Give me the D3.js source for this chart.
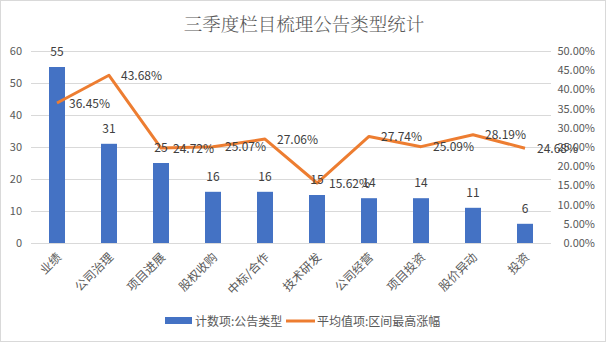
<!DOCTYPE html>
<html><head><meta charset="utf-8">
<script src="https://cdn.jsdelivr.net/npm/d3@7"></script>
<style>body{margin:0;background:#fff}svg{display:block}</style>
</head><body>
<svg id="c" width="606" height="342"></svg>
<script>
const categories = ["业绩","公司治理","项目进展","股权收购","中标/合作","技术研发","公司经营","项目投资","股价异动","投资"];
const counts = [55,31,25,16,16,15,14,14,11,6];
const pcts = [36.45,43.68,24.72,25.07,27.06,15.62,27.74,25.09,28.19,24.68];
const leftTicks = [0,10,20,30,40,50,60];
const rightTicks = [0,5,10,15,20,25,30,35,40,45,50];
const title = "三季度栏目梳理公告类型统计";
const legendNames = ["计数项:公告类型","平均值项:区间最高涨幅"];

const svg = d3.select("#c");
const W = 606, H = 342;
const font = "'Noto Sans CJK SC','Microsoft YaHei',sans-serif";
const txt = "#595959";
svg.append("rect").attr("x",0.5).attr("y",0.5).attr("width",W-1).attr("height",H-1)
  .attr("fill","#fff").attr("stroke","#d9d9d9");

const x0 = 31, x1 = 551, yTop = 51, yBot = 243;
const x = d3.scaleBand().domain(categories).range([x0,x1]);
const yL = d3.scaleLinear().domain([0,60]).range([yBot,yTop]);
const yR = d3.scaleLinear().domain([0,50]).range([yBot,yTop]);

svg.append("text").attr("x",W/2+1).attr("y",31).attr("text-anchor","middle")
  .attr("font-family","'Noto Serif CJK SC','Noto Sans CJK SC',serif").attr("font-size",18.5)
  .attr("font-weight",300)
  .attr("fill","#595959").text(title);

// gridlines
svg.append("g").selectAll("line").data(leftTicks).join("line")
  .attr("x1",x0).attr("x2",x1).attr("y1",d=>Math.round(yL(d))+0.5).attr("y2",d=>Math.round(yL(d))+0.5)
  .attr("stroke","#d9d9d9").attr("stroke-width",1);

// left axis
const gl = svg.append("g").attr("transform",`translate(22,0)`)
  .call(d3.axisLeft(yL).tickValues(leftTicks).tickSize(0).tickPadding(0));
gl.select(".domain").remove();
gl.selectAll("text").attr("font-family",font).attr("font-size",11).attr("fill",txt);

// right axis
const gr = svg.append("g").attr("transform",`translate(595,0)`)
  .call(d3.axisLeft(yR).tickValues(rightTicks).tickSize(0).tickPadding(0).tickFormat(d=>d.toFixed(2)+"%"));
gr.select(".domain").remove();
gr.selectAll("text").attr("font-family",font).attr("font-size",11).attr("fill",txt);

// bars
const bw = 16;
svg.append("g").selectAll("rect").data(counts).join("rect")
  .attr("x",(d,i)=>x(categories[i])+x.bandwidth()/2-bw/2).attr("width",bw)
  .attr("y",d=>yL(d)).attr("height",d=>yBot-yL(d)).attr("fill","#4472C4");

// line
const line = d3.line().x((d,i)=>x(categories[i])+x.bandwidth()/2).y(d=>yR(d));
svg.append("path").datum(pcts).attr("d",line).attr("fill","none")
  .attr("stroke","#ED7D31").attr("stroke-width",3).attr("stroke-linejoin","round");

// bar labels
svg.append("g").selectAll("text").data(counts).join("text")
  .attr("x",(d,i)=>x(categories[i])+x.bandwidth()/2).attr("y",d=>yL(d)-11)
  .attr("text-anchor","middle").attr("font-family",font).attr("font-size",12).attr("fill","#404040")
  .text(d=>d);

// line labels
svg.append("g").selectAll("text").data(pcts).join("text")
  .attr("x",(d,i)=>x(categories[i])+x.bandwidth()/2+12).attr("y",d=>yR(d)+4.5)
  .attr("text-anchor","start").attr("font-family",font).attr("font-size",12).attr("fill","#404040")
  .text(d=>d.toFixed(2)+"%");

// x labels
svg.append("g").selectAll("text").data(categories).join("text")
  .attr("transform",(d)=>`translate(${x(d)+x.bandwidth()/2+5},${yBot+15}) rotate(-45)`)
  .attr("text-anchor","end").attr("font-family",font).attr("font-size",12).attr("fill",txt)
  .text(d=>d);

// legend
const lg = svg.append("g");
lg.append("rect").attr("x",165).attr("y",317).attr("width",27).attr("height",7).attr("fill","#4472C4");
lg.append("text").attr("x",195).attr("y",326).attr("font-family",font).attr("font-size",12).attr("fill",txt).text(legendNames[0]);
lg.append("line").attr("x1",286).attr("x2",315).attr("y1",321).attr("y2",321).attr("stroke","#ED7D31").attr("stroke-width",3);
lg.append("text").attr("x",317).attr("y",326).attr("font-family",font).attr("font-size",12).attr("fill",txt).text(legendNames[1]);
</script>
</body></html>
